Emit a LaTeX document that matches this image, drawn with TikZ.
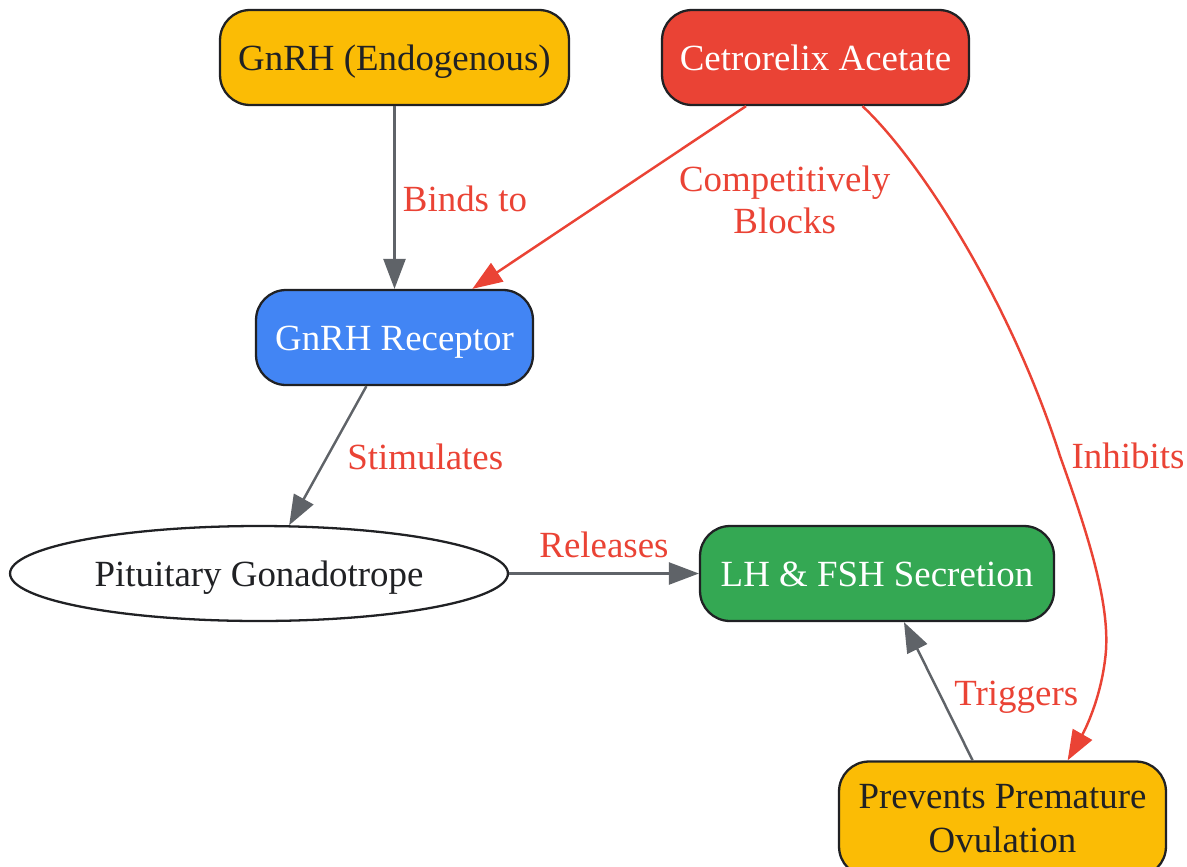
\documentclass[tikz,border=0pt]{standalone}
\usepackage{fontspec}
\setmainfont{Liberation Serif}
\usepackage{xcolor}
\usepackage{tikz}
\usetikzlibrary{shapes,arrows.meta,positioning}
\definecolor{ink}{HTML}{202124}
\definecolor{gyellow}{HTML}{FBBC05}
\definecolor{gred}{HTML}{EA4335}
\definecolor{gblue}{HTML}{4285F4}
\definecolor{ggreen}{HTML}{34A853}
\definecolor{ggray}{HTML}{5F6368}
\tikzset{
    boxbase/.style={draw=ink, line width=1.3pt, rectangle, rounded corners=0.6cm, minimum height=1.9cm, text centered, font=\fontsize{21}{25}\selectfont},
    proc/.style={boxbase, text height=0.52cm, text depth=0pt},
    drug/.style={proc, fill=gred, text=white},
    target/.style={proc, fill=gblue, text=white},
    output/.style={proc, fill=ggreen, text=white},
    source/.style={proc, fill=gyellow, text=ink},
    cell/.style={draw=ink, line width=1.3pt, ellipse, fill=white, text=ink, minimum width=9.96cm, minimum height=1.9cm, text height=0.52cm, text depth=0pt, font=\fontsize{21}{25}\selectfont},
    flow/.style={-{Triangle[length=0.6cm, width=0.44cm]}, line width=1.4pt, ggray},
    block/.style={-{Triangle[length=0.6cm, width=0.44cm]}, line width=1.4pt, gred},
    lbl/.style={text=gred, inner sep=1pt, align=center, font=\fontsize{21}{24}\selectfont}
}
\begin{document}
\begin{tikzpicture}[x=0.02cm, y=-0.02cm]
    \useasboundingbox (0,0) rectangle (1187,866);

    % nodes
    \node[source, minimum width=6.98cm] (gnrh) at (394.5,57.5) {GnRH (Endogenous)};
    \node[drug, minimum width=6.14cm] (cet) at (815.5,57.5) {Cetrorelix Acetate};
    \node[target, minimum width=5.54cm] (rec) at (394.5,337.5) {GnRH Receptor};
    \node[cell] (pit) at (259,573.5) {Pituitary Gonadotrope};
    \node[output, minimum width=7.08cm] (lh) at (877,573.5) {LH \& FSH Secretion};
    \node[boxbase, fill=gyellow, text=ink, minimum width=6.54cm, minimum height=2.3cm, align=center] (prev) at (1002.5,819) {Prevents Premature\\Ovulation};

    % connectors
    \draw[flow] (gnrh) -- (rec) node[lbl, midway, xshift=1.41cm, yshift=-0.03cm] {Binds to};
    \draw[block] (cet.-145) -- (rec.32) node[lbl, midway, xshift=3.51cm, yshift=-0.04cm] {Competitively\\Blocks};
    \draw[flow] (rec.-120) -- (pit.58) node[lbl, midway, xshift=1.95cm, yshift=-0.02cm] {Stimulates};
    \draw[flow] (pit) -- (lh) node[lbl, midway, yshift=0.57cm] {Releases};
    \draw[flow] (prev.117) -- (lh.-61) node[lbl, midway, xshift=1.56cm, yshift=-0.13cm] {Triggers};
    \draw[block] (cet.-46) .. controls (920,160) and (1010,300) .. (1060,456)
        node[lbl, xshift=1.36cm] {Inhibits}
        .. controls (1090,540) and (1112,610) .. (1105,660)
        .. controls (1100,700) and (1085,730) .. (prev.42);
\end{tikzpicture}
\end{document}
